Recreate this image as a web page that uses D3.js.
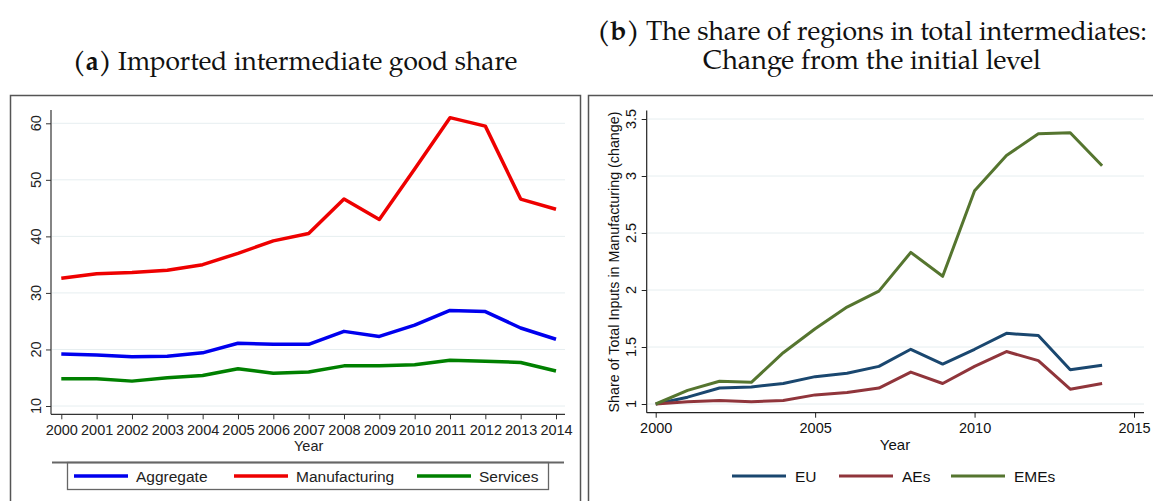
<!DOCTYPE html>
<html><head><meta charset="utf-8">
<script src="https://cdn.jsdelivr.net/npm/d3@7"></script>
<style>body{margin:0;background:#fff;} svg{display:block}</style>
</head><body>
<script>
// ---------- data ----------
const years = [2000,2001,2002,2003,2004,2005,2006,2007,2008,2009,2010,2011,2012,2013,2014];
const aggregate     = [19.2,19.0,18.7,18.8,19.4,21.1,20.9,20.9,23.2,22.3,24.3,26.9,26.7,23.8,21.8];
const manufacturing = [32.6,33.4,33.6,34.0,35.0,37.0,39.2,40.5,46.6,43.0,51.9,61.0,59.5,46.6,44.8];
const services      = [14.8,14.8,14.4,15.0,15.4,16.6,15.8,16.0,17.1,17.1,17.3,18.1,17.9,17.7,16.2];
const leftYTicks = [10,20,30,40,50,60];
const leftSeriesNames = ["Aggregate","Manufacturing","Services"];

const eu   = [1.00,1.06,1.14,1.15,1.18,1.24,1.27,1.33,1.48,1.35,1.48,1.62,1.60,1.30,1.34];
const aes  = [1.00,1.02,1.03,1.02,1.03,1.08,1.10,1.14,1.28,1.18,1.33,1.46,1.38,1.13,1.18];
const emes = [1.00,1.12,1.20,1.19,1.45,1.66,1.85,1.99,2.33,2.12,2.87,3.18,3.37,3.38,3.09];
const rightYTicks = [1,1.5,2,2.5,3,3.5];
const rightXTicks = [2000,2005,2010,2015];
const rightSeriesNames = ["EU","AEs","EMEs"];

const titleA = ["(a)"," Imported intermediate good share"];
const titleB1 = ["(b)"," The share of regions in total intermediates:"];
const titleB2 = "Change from the initial level";
const rightYTitle = "Share of Total Inputs in Manufacturing (change)";
const xTitle = "Year";

// ---------- setup ----------
const W = 1153, H = 501;
const sans = "'Liberation Sans', Arial, Helvetica, sans-serif";
const serif = "'Palatino Linotype', Palatino, 'TeX Gyre Pagella', 'Liberation Serif', serif";
const gridColor = "#e6eef0";
const svg = d3.select("body").append("svg").attr("width", W).attr("height", H);

function fitTitle(parts, cx, baseline, target) {
  const t = svg.append("text").attr("x", cx).attr("y", baseline)
    .attr("text-anchor", "middle").attr("font-family", serif).attr("font-size", 26).attr("fill", "#111");
  if (Array.isArray(parts)) {
    t.append("tspan").attr("font-weight", "bold").text(parts[0]);
    t.append("tspan").text(parts[1]);
  } else t.text(parts);
  const w = t.node().getComputedTextLength();
  if (w > 0) t.attr("font-size", 26 * target / w);
}

// ---------- titles ----------
fitTitle(titleA, 295, 70, 445);
fitTitle(titleB1, 872, 40, 550);
fitTitle(titleB2, 872, 69, 338);

// ---------- frames ----------
svg.append("rect").attr("x", 10.5).attr("y", 95.5).attr("width", 570).attr("height", 420)
  .attr("fill", "none").attr("stroke", "#555").attr("stroke-width", 1.5);
svg.append("rect").attr("x", 588.5).attr("y", 95.5).attr("width", 600).attr("height", 420)
  .attr("fill", "none").attr("stroke", "#555").attr("stroke-width", 1.5);

// ---------- left panel ----------
{
  const x = d3.scaleLinear().domain([2000, 2014]).range([61.3, 556]);
  const y = d3.scaleLinear().domain([10, 60]).range([406, 123.3]);
  const axX = 51, axY = 414.3, plotRight = 565, plotTop = 110;
  const g = svg.append("g");

  g.selectAll("line.grid").data(leftYTicks).join("line")
    .attr("x1", axX + 1).attr("x2", plotRight).attr("y1", d => y(d)).attr("y2", d => y(d))
    .attr("stroke", gridColor).attr("stroke-width", 1);

  const colors = ["#0000ee", "#ee0000", "#008000"];
  const series = [aggregate, manufacturing, services];
  const line = d3.line().x((d, i) => x(years[i])).y(d => y(d));
  series.forEach((s, k) => {
    g.append("path").datum(s).attr("d", line).attr("fill", "none")
      .attr("stroke", colors[k]).attr("stroke-width", 3.5).attr("stroke-linejoin", "round");
  });

  // y axis
  const ya = g.append("g").attr("transform", `translate(${axX},0)`)
    .call(d3.axisLeft(y).tickValues(leftYTicks).tickSize(5).tickSizeOuter(0).tickFormat(""));
  ya.select(".domain").remove();
  ya.selectAll("line").attr("stroke", "#333");
  g.append("line").attr("x1", axX).attr("x2", axX).attr("y1", plotTop).attr("y2", axY).attr("stroke", "#333").attr("stroke-width", 1.2);
  g.selectAll("text.yl").data(leftYTicks).join("text")
    .attr("transform", d => `translate(40.5,${y(d)}) rotate(-90)`)
    .attr("text-anchor", "middle").attr("font-family", sans).attr("font-size", 14.5).attr("fill", "#222")
    .text(d => d);

  // x axis
  const xa = g.append("g").attr("transform", `translate(0,${axY})`)
    .call(d3.axisBottom(x).tickValues(years).tickFormat(d3.format("d")).tickSize(5).tickPadding(5));
  xa.select(".domain").remove();
  xa.selectAll("line").attr("stroke", "#333");
  xa.selectAll("text").attr("font-family", sans).attr("font-size", 14.5).attr("fill", "#222");
  g.append("line").attr("x1", axX).attr("x2", plotRight).attr("y1", axY).attr("y2", axY).attr("stroke", "#333").attr("stroke-width", 1.2);
  g.append("text").attr("x", x(2007)).attr("y", 451).attr("text-anchor", "middle")
    .attr("font-family", sans).attr("font-size", 14.5).attr("fill", "#222").text(xTitle);

  // legend
  g.append("line").attr("x1", axX + 1).attr("x2", plotRight - 1).attr("y1", 462.5).attr("y2", 462.5)
    .attr("stroke", "#666").attr("stroke-width", 2);
  g.append("rect").attr("x", 67.5).attr("y", 462.5).attr("width", 481).attr("height", 27)
    .attr("fill", "none").attr("stroke", "#666").attr("stroke-width", 1.3);
  const legX = [74, 234, 417];
  leftSeriesNames.forEach((n, k) => {
    g.append("line").attr("x1", legX[k]).attr("x2", legX[k] + 54).attr("y1", 476).attr("y2", 476)
      .attr("stroke", colors[k]).attr("stroke-width", 3.5);
    g.append("text").attr("x", legX[k] + 62).attr("y", 481.5).attr("font-family", sans)
      .attr("font-size", 15.5).attr("fill", "#222").text(n);
  });
}

// ---------- right panel ----------
{
  const x = d3.scaleLinear().domain([2000, 2015]).range([655.7, 1134]);
  const y = d3.scaleLinear().domain([1, 3.5]).range([404, 119]);
  const axX = 646.7, axY = 412.7, plotRight = 1144, plotTop = 110.5;
  const g = svg.append("g");

  g.selectAll("line.grid").data(rightYTicks).join("line")
    .attr("x1", axX + 1).attr("x2", plotRight).attr("y1", d => y(d)).attr("y2", d => y(d))
    .attr("stroke", gridColor).attr("stroke-width", 1);

  const colors = ["#1a476f", "#90353b", "#55752f"];
  const series = [eu, aes, emes];
  const line = d3.line().x((d, i) => x(years[i])).y(d => y(d));
  series.forEach((s, k) => {
    g.append("path").datum(s).attr("d", line).attr("fill", "none")
      .attr("stroke", colors[k]).attr("stroke-width", 3).attr("stroke-linejoin", "round");
  });

  const ya = g.append("g").attr("transform", `translate(${axX},0)`)
    .call(d3.axisLeft(y).tickValues(rightYTicks).tickSize(5).tickSizeOuter(0).tickFormat(""));
  ya.select(".domain").remove();
  ya.selectAll("line").attr("stroke", "#222");
  g.append("line").attr("x1", axX).attr("x2", axX).attr("y1", plotTop).attr("y2", axY).attr("stroke", "#222").attr("stroke-width", 1.2);
  g.selectAll("text.yl").data(rightYTicks).join("text")
    .attr("transform", d => `translate(636,${y(d)}) rotate(-90)`)
    .attr("text-anchor", "middle").attr("font-family", sans).attr("font-size", 14.5).attr("fill", "#111")
    .text(d => d);
  g.append("text").attr("transform", `translate(619,262) rotate(-90)`)
    .attr("text-anchor", "middle").attr("font-family", sans).attr("font-size", 14.3).attr("fill", "#111")
    .text(rightYTitle);

  const xa = g.append("g").attr("transform", `translate(0,${axY})`)
    .call(d3.axisBottom(x).tickValues(rightXTicks).tickFormat(d3.format("d")).tickSize(5).tickPadding(5));
  xa.select(".domain").remove();
  xa.selectAll("line").attr("stroke", "#222");
  xa.selectAll("text").attr("font-family", sans).attr("font-size", 14.5).attr("fill", "#111");
  g.append("line").attr("x1", axX).attr("x2", plotRight).attr("y1", axY).attr("y2", axY).attr("stroke", "#222").attr("stroke-width", 1.2);
  g.append("text").attr("x", 895).attr("y", 450).attr("text-anchor", "middle")
    .attr("font-family", sans).attr("font-size", 15).attr("fill", "#111").text(xTitle);

  const legX = [732, 839, 951];
  rightSeriesNames.forEach((n, k) => {
    g.append("line").attr("x1", legX[k]).attr("x2", legX[k] + 54).attr("y1", 476).attr("y2", 476)
      .attr("stroke", colors[k]).attr("stroke-width", 3);
    g.append("text").attr("x", legX[k] + 63).attr("y", 481.5).attr("font-family", sans)
      .attr("font-size", 15.5).attr("fill", "#111").text(n);
  });
}
</script>
</body></html>
